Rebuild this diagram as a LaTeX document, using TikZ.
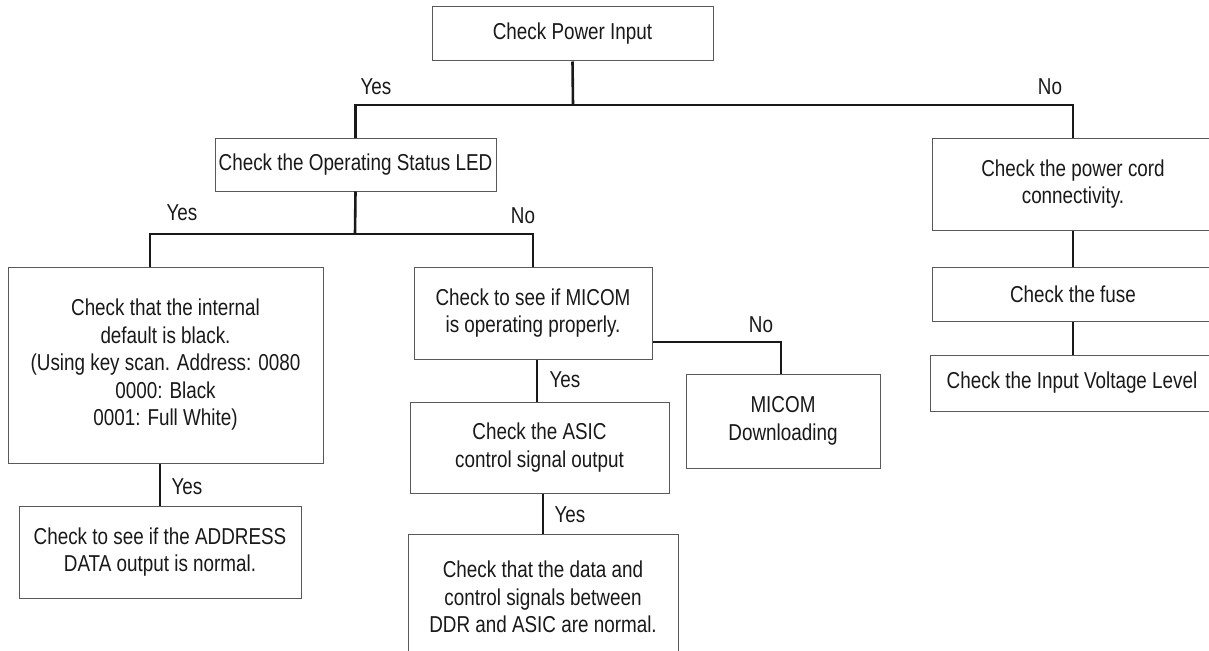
\documentclass[tikz,border=0pt]{standalone}
\usepackage{fontspec}
\setmainfont[FakeStretch=0.82]{Liberation Sans}
\begin{document}
\begin{tikzpicture}[x=1pt,y=-1pt,
  box/.style={draw=black!65, line width=1pt, fill=white, align=center,
    inner sep=0pt, text=black!90, font=\fontsize{23}{27.5}\selectfont},
  lbl/.style={inner sep=0pt, text=black!90, font=\fontsize{23}{27.5}\selectfont},
  wire/.style={line width=2.6pt, black!90}]
\useasboundingbox (0,0) rectangle (1209,650);
\clip (0,0) rectangle (1209,650);

% decision / action boxes
\node[box, minimum width=281pt, minimum height=54pt] (pwr) at (572.5,34) {Check Power Input};
\node[box, minimum width=281pt, minimum height=53pt] (led) at (355.5,164.5) {Check the Operating Status LED};
\node[box, minimum width=282pt, minimum height=92pt] (cord) at (1073,184) {Check the power cord\\connectivity.};
\node[box, minimum width=282pt, minimum height=54pt] (fuse) at (1073,294) {Check the fuse};
\node[box, minimum width=284pt, minimum height=56pt] (volt) at (1072,383) {Check the Input Voltage Level};
\node[box, minimum width=315pt, minimum height=196pt] (dflt) at (165.5,365)
  {Check that the internal\\default is black.\\(Using key scan. Address: 0080\\0000: Black\\0001: Full White)};
\node[box, minimum width=238pt, minimum height=92pt] (micom) at (533,313) {Check to see if MICOM\\is operating properly.};
\node[box, minimum width=282pt, minimum height=92pt] (addr) at (160,552) {Check to see if the ADDRESS\\DATA output is normal.};
\node[box, minimum width=259pt, minimum height=91pt] (asic) at (539.5,447.5) {Check the ASIC\\control signal output};
\node[box, minimum width=194pt, minimum height=94pt] (dload) at (783,421) {MICOM\\Downloading};
\node[box, minimum width=270pt, minimum height=126pt] (ddr) at (543,597)
  {Check that the data and\\control signals between\\DDR and ASIC are normal.};

% junction points of the connectors
\coordinate (j1) at (573,105);
\coordinate (j2) at (355,234);
\coordinate (xA) at (150,0);
\coordinate (yM) at (0,342);
\coordinate (xB) at (537,0);
\coordinate (xC) at (781,0);

% connectors
\draw[wire] (pwr.south) -- (j1);
\draw[wire] (led.north) |- (j1) -| (cord.north);
\draw[wire] (led.south) -- (j2);
\draw[wire] (dflt.north -| xA) |- (j2) -| (micom.north);
\draw[wire] (addr.north) -- (addr.north |- dflt.south);
\draw[wire] (micom.east |- yM) -| (dload.north -| xC);
\draw[wire] (micom.south -| xB) -- (asic.north -| xB);
\draw[wire] (ddr.north) -- (ddr.north |- asic.south);
\draw[wire] (cord.south) -- (fuse.north);
\draw[wire] (fuse.south) -- (volt.north -| fuse.south);

% branch labels
\node[lbl] (y1) at (376,87) {Yes};
\node[lbl] (n1) at (1050,87) {No};
\node[lbl] (y2) at (182,213) {Yes};
\node[lbl] (n2) at (523,216) {No};
\node[lbl] (n3) at (761,325) {No};
\node[lbl] (y3) at (565,380) {Yes};
\node[lbl] (y4) at (187,487) {Yes};
\node[lbl] (y5) at (570,515) {Yes};
\end{tikzpicture}
\end{document}
